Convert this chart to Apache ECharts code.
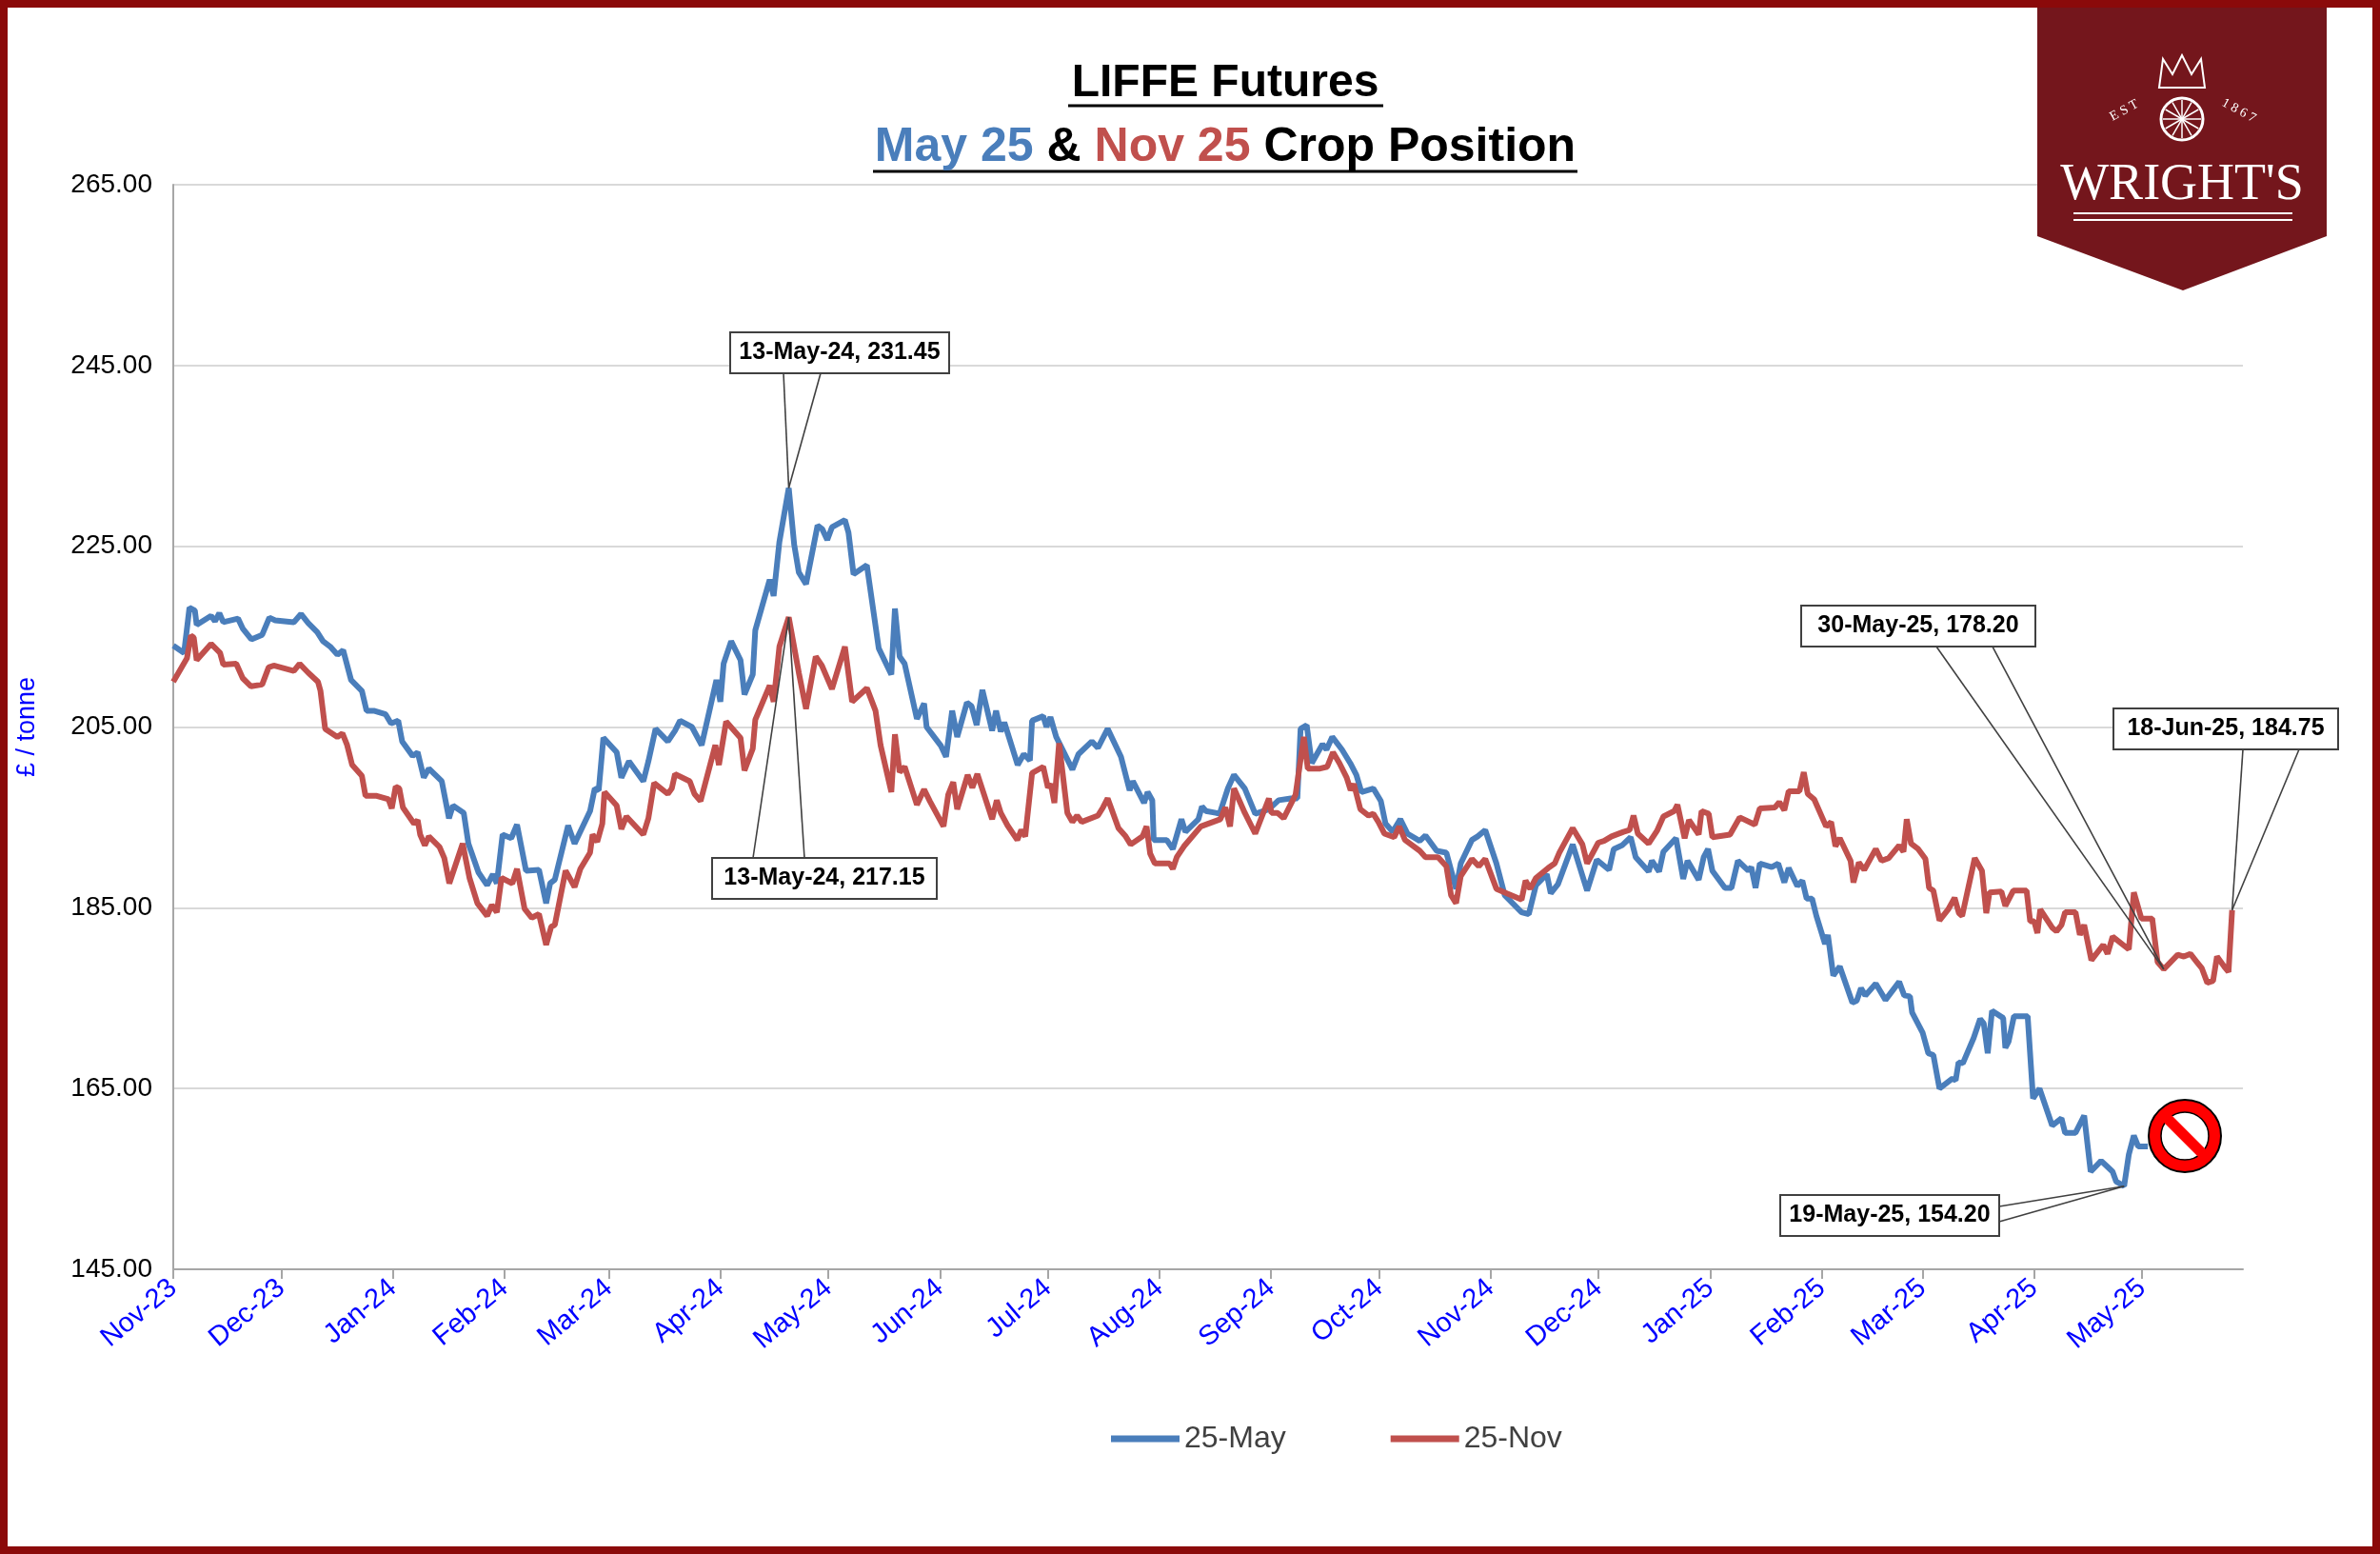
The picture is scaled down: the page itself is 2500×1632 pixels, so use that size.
<!DOCTYPE html>
<html><head><meta charset="utf-8">
<script src="https://cdn.jsdelivr.net/npm/echarts@6/dist/echarts.min.js"></script>
<style>html,body{margin:0;padding:0;background:#fff}#c{width:2500px;height:1632px}</style>
</head><body><div id="c"></div>
<script>
// Day offsets from 24-Nov-2023 and prices (£/tonne)
const startDate = '2023-11-24';
const mayDays = [0,3,4.5,6,6.5,10.5,11.6,12.8,13.9,18,19.3,21.7,24.7,26.7,28.3,33.5,35.5,37.5,40,41.6,43.6,45.6,47.2,49.4,52.4,53.7,55.7,59,60.5,62.5,63.6,66.5,67.9,69.6,71,74.6,76.6,77.7,80.7,82,84.8,87.2,88.8,89.9,91.5,93.9,95.5,98,101.6,103.6,104.7,106,109.7,111.5,115.8,117.1,118.2,119.5,123.2,124.5,126.6,130.6,132,134,137.4,139.4,140.8,144.1,146.8,150.9,152,152.9,155,157.6,158.7,161,161.7,165.7,166.8,168.4,171,172.5,173.8,175.8,179,180.3,181.7,183,186.6,187.6,189,192.7,196,199.5,200.5,201.8,203.2,206.6,208.6,209.3,213.3,214.7,216.4,217.8,220.5,221.8,223.2,224.8,227.5,228.6,229.9,230.9,234.6,236.3,238,238.6,241.7,242.6,243.7,245.3,249.8,251.5,255.2,256.9,259.6,263.3,265.7,266.6,269.7,270.7,272,272.4,276,277.7,280.1,281.2,284.8,285.8,286.9,289.6,290.7,293,294.7,297.7,300.6,304.4,307.1,310.5,312.3,313.2,314.9,316.3,319.3,320.4,322,324.7,327,328.7,330.1,333.4,335.5,336.8,338.8,340.9,342.9,346.3,347.9,351,353.7,356.4,357.7,360.8,362.4,364.5,367.6,369.9,374.6,376.6,378.6,381.6,382.7,384.7,388.8,392.8,395.5,398.9,400.2,402.5,404.9,406.3,409.9,410.8,412.8,414,417.5,419.5,420.7,423.8,425.2,426.4,427.6,431.1,432.9,434.7,437.6,438.4,439.6,440.8,444.1,445.9,447.6,448.8,451.2,452.6,453.8,455.3,456.5,458.9,459.7,461.2,463,466.5,467.7,468.9,470.1,473,475.7,479.5,480.9,482.5,483.1,486,487.6,489,490.7,494.3,495.2,496,497.2,500.2,502,503,504.1,505.3,508.4,509,509.9,511.4,515.2,516.7,518.5,522,524.6,525.6,528.5,530.9,532.7,535.6,537.2,538.8,539.8,542,543.3,544.7,545.9,548.6];
const mayVals = [214.0,213.2,218.2,217.9,216.3,217.3,216.7,217.6,216.6,217.0,215.9,214.7,215.2,217.1,216.8,216.6,217.5,216.5,215.5,214.5,213.9,213.0,213.5,210.2,209.0,206.8,206.8,206.4,205.4,205.7,203.4,201.8,202.2,199.4,200.4,199.0,194.9,196.3,195.5,192.1,188.9,187.5,188.7,187.7,193.1,192.7,194.2,189.1,189.2,185.5,187.7,188.1,194.1,192.1,195.7,198.2,198.0,203.8,202.2,199.4,201.2,199.0,201.2,204.8,203.4,204.6,205.7,205.0,203.0,210.2,207.8,212.0,214.5,212.4,208.6,210.8,215.7,221.3,219.5,225.5,231.45,225.2,222.1,220.8,227.3,226.9,225.7,227.1,227.9,226.5,221.9,222.9,213.7,210.8,218.1,212.8,212.0,205.9,207.6,205.0,202.9,201.7,206.8,203.9,207.7,207.3,205.2,209.1,204.6,206.8,204.5,205.5,200.8,202.0,201.3,205.7,206.2,205.0,206.1,203.9,200.3,202.0,203.4,202.7,204.8,201.7,198.0,199.0,196.6,197.8,196.9,192.5,192.5,191.5,194.8,193.4,194.8,196.2,195.7,195.5,195.4,198.2,199.7,198.2,195.4,195.9,196.9,197.1,197.1,204.8,205.2,201.0,203.1,202.5,203.9,202.5,201.0,199.7,197.8,198.2,196.8,194.3,193.4,194.8,193.2,192.4,193.0,191.3,191.1,187.1,189.9,192.5,192.9,193.6,189.9,186.4,184.5,184.3,187.5,188.7,186.6,187.6,192.0,186.9,190.3,189.2,191.5,191.9,192.8,190.6,189.0,190.2,189.0,191.2,192.7,188.2,190.2,188.1,190.6,191.5,189.1,187.2,187.2,190.2,189.1,189.5,187.2,189.9,189.5,189.9,187.8,189.4,187.4,188.0,186.0,186.0,184.1,181.0,182.0,177.5,178.5,174.5,174.7,176.1,175.3,176.6,174.8,176.8,175.3,175.2,173.4,171.2,168.9,168.7,165.0,166.1,165.9,167.9,167.8,170.6,172.7,172.2,168.9,173.6,172.8,169.5,170.2,173.0,173.0,163.9,165.0,160.9,161.7,160.1,160.1,162.0,155.8,157.0,156.4,155.8,154.7,154.2,157.7,159.8,158.6,158.6];
const novDays = [0,3.8,4.9,5.7,6.5,10.5,13,13.9,17.5,19.3,21.6,24.7,26.5,27.9,33.5,35.1,37.5,40.2,40.9,42.2,45.6,47,48.3,49.7,52.4,53.4,55,56.3,59.8,60.7,61.8,62.8,63.8,66.9,67.9,68.6,69.9,71,74,75.3,76.7,80.4,82.3,84.5,87.2,88.5,89.9,91.2,94.2,95.5,97.6,99.6,101.6,103.6,105,106,109,111.5,113.1,115.8,116.5,117.8,119.2,119.8,123.2,124.5,125.9,130.6,132,133.6,137.4,138.5,139.4,143.5,144.8,146.5,150.6,151.6,153.6,157.6,158.7,161,161.7,165.7,166.8,168.4,171,173.8,175.8,178.5,180.2,183,186.6,188.6,192.7,195.1,196.5,199.5,200.5,201.8,203.2,206.6,208.6,210.2,214,215.3,216.7,217.8,220.7,222,223.4,227.5,228.8,229.9,231.8,234.5,235.6,236.7,238.6,241.7,243,243.8,244.8,246.1,248.4,249.8,251.1,252.4,256.9,258.3,259.6,262.6,264.6,266,269.3,270.4,271.4,272.7,276.8,277.7,278.8,280.8,285.5,288.2,290.9,292.3,293.6,294.7,297.7,300.6,304.4,305.1,306.8,308.5,311.8,314.1,315.2,318.6,320.6,322.2,324,326,327.1,328,329.8,332.1,333.4,334.8,336.5,339.2,340.6,342.2,346.3,347.9,351.4,353.7,355,356.4,357.7,360.8,362.7,364.5,367.6,370.5,374.6,375.7,377,378.6,382,383.8,385.1,388.8,391.5,392.8,395.9,397.5,399.6,402.9,404.6,405.7,406.9,409.9,412.2,414,417,417.9,419.9,421.1,423.8,424.6,426.6,427.6,432.5,435.2,439.4,440.8,445,446.2,447.6,448.8,451.8,453,454.1,455.9,459.2,460.6,461.8,463,466,466.8,468.3,469.8,473,474.6,476.6,479.5,480.7,481.6,482.8,484.8,486.8,487.8,489,490.7,493.1,494.9,496.1,497,500.5,502.5,503.7,504.6,507.9,509,511.2,514.9,515.9,517,517.9,518.7,522,523.2,524.6,525.6,528.5,529.7,530.9,532.9,536.2,537.4,538.8,543.3,544.7,546.8,549.8,551.3,553,556.9,558.6,560.4,562.2,563.6,565.1,566.7,567.8,569.8,571,572];
const novVals = [210.0,212.6,215.1,214.9,212.4,214.2,213.2,211.9,212.0,210.4,209.5,209.7,211.6,211.8,211.2,212.0,211.0,210.0,209.0,204.8,203.9,204.3,203.0,200.8,199.6,197.4,197.4,197.4,197.0,196.0,198.4,198.2,196.1,194.3,194.7,193.1,191.9,192.9,191.7,190.5,187.7,192.1,188.3,185.5,184.1,185.3,184.5,188.3,187.7,189.3,184.9,183.9,184.3,180.9,182.9,183.1,189.1,187.3,189.3,191.1,193.1,192.3,194.3,197.8,196.3,193.7,195.1,193.1,194.9,198.8,197.6,198.2,199.8,199.0,197.6,196.8,203.0,200.8,205.6,203.8,200.2,202.6,205.8,209.6,207.8,213.9,217.15,211.0,207.0,212.8,211.8,209.2,213.9,207.8,209.3,206.8,203.0,197.8,204.2,200.0,200.6,196.4,198.1,196.8,194.0,197.5,198.9,195.9,199.7,198.3,199.8,194.8,196.9,195.5,194.1,192.5,193.6,192.9,199.9,200.6,198.3,198.7,196.6,203.2,195.5,194.5,195.2,194.5,195.2,196.1,197.1,193.8,192.9,192.0,192.9,194.0,191.0,189.9,189.9,189.3,190.6,191.8,194.0,194.4,194.8,196.1,194.0,198.2,195.5,193.2,197.1,195.5,195.5,194.9,197.5,203.9,200.4,200.4,200.6,202.2,201.0,199.4,198.0,198.7,195.9,195.2,195.4,194.5,193.2,192.8,194.0,192.5,191.3,190.6,190.6,189.6,186.4,185.5,188.5,190.4,189.6,190.4,187.1,186.6,185.9,188.0,187.1,188.3,189.4,189.9,191.1,193.8,192.0,189.9,192.2,192.4,192.9,193.4,193.6,195.2,193.2,192.1,193.5,195.1,195.7,196.4,192.7,194.7,193.1,195.7,195.4,192.8,193.1,195.0,194.2,196.0,196.1,196.7,195.8,197.9,197.9,200.0,197.6,197.0,194.0,194.5,191.8,192.7,190.2,187.8,190.0,189.2,191.5,190.2,190.5,191.9,191.2,194.8,192.1,191.5,190.4,187.2,186.9,183.6,184.8,186.1,184.4,184.1,190.5,189.1,184.4,186.7,186.8,185.2,186.9,186.9,183.5,183.5,182.2,184.8,182.8,182.4,183.1,184.5,184.5,182.0,183.1,179.2,180.9,179.9,181.8,180.4,186.7,183.8,183.8,179.0,178.2,179.8,179.6,179.9,179.0,178.3,176.7,176.9,179.6,178.5,177.9,184.75];
const monthTicks = ['2023-11-24','2023-12-24','2024-01-24','2024-02-24','2024-03-24','2024-04-24','2024-05-24','2024-06-24','2024-07-24','2024-08-24','2024-09-24','2024-10-24','2024-11-24','2024-12-24','2025-01-24','2025-02-24','2025-03-24','2025-04-24','2025-05-24'];
const monthLabels = ['Nov-23','Dec-23','Jan-24','Feb-24','Mar-24','Apr-24','May-24','Jun-24','Jul-24','Aug-24','Sep-24','Oct-24','Nov-24','Dec-24','Jan-25','Feb-25','Mar-25','Apr-25','May-25'];
const callouts = [
  {text:'13-May-24, 231.45', day:171, val:231.45},
  {text:'13-May-24, 217.15', day:171, val:217.15},
  {text:'30-May-25, 178.20', day:553, val:178.20},
  {text:'18-Jun-25, 184.75', day:572, val:184.75},
  {text:'19-May-25, 154.20', day:542, val:154.20}
];

const DAY = 86400000;
const t0 = Date.parse(startDate + 'T00:00:00Z');
const tickDays = monthTicks.map(s => Math.round((Date.parse(s + 'T00:00:00Z') - t0) / DAY));
const labelMap = {}; tickDays.forEach((d, i) => labelMap[d] = monthLabels[i]);
const BLUE = '#4a7ebb', RED = '#c0504d';

const chart = echarts.init(document.getElementById('c'));
chart.setOption({
  animation: false,
  backgroundColor: '#fff',
  grid: {left: 182, right: 144, top: 194, bottom: 299},
  legend: {
    top: 1490, left: 1162, itemGap: 110, itemWidth: 72, itemHeight: 7,
    textStyle: {fontFamily: 'Liberation Sans Narrow, Arial Narrow, sans-serif', fontSize: 32, color: '#404040'},
    data: [{name: '25-May', icon: 'rect'}, {name: '25-Nov', icon: 'rect'}]
  },
  xAxis: {
    type: 'value', min: 0, max: 575,
    axisLine: {lineStyle: {color: '#a6a6a6', width: 2}},
    axisTick: {show: true, customValues: tickDays, length: 10, lineStyle: {color: '#a6a6a6', width: 2}},
    splitLine: {show: false},
    axisLabel: {customValues: tickDays, rotate: 40, color: '#0000ff', fontSize: 29, fontFamily: 'Liberation Sans, Arial, sans-serif', margin: 16,
      formatter: v => labelMap[Math.round(v)] || ''}
  },
  yAxis: {
    type: 'value', min: 145, max: 265, interval: 20,
    name: '£ / tonne', nameLocation: 'middle', nameGap: 140, nameRotate: 90,
    nameTextStyle: {color: '#0000ff', fontSize: 27, fontFamily: 'Liberation Sans, Arial, sans-serif'},
    axisLine: {show: true, lineStyle: {color: '#a6a6a6', width: 2}},
    axisTick: {show: false},
    splitLine: {lineStyle: {color: '#d9d9d9', width: 2}},
    axisLabel: {formatter: v => v.toFixed(2), color: '#000', fontSize: 28, fontFamily: 'Liberation Sans Narrow, Arial Narrow, sans-serif', margin: 22}
  },
  series: [
    {name: '25-May', type: 'line', showSymbol: false, symbol: 'none', color: BLUE, lineStyle: {width: 6, color: BLUE},
     data: mayDays.map((d, i) => [d, mayVals[i]])},
    {name: '25-Nov', type: 'line', showSymbol: false, symbol: 'none', color: RED, lineStyle: {width: 6, color: RED},
     data: novDays.map((d, i) => [d, novVals[i]])}
  ]
});

const boxLayout = [
  {x: 767, y: 349, w: 230, h: 43, a: [[823, 392], [862, 392]]},
  {x: 748, y: 901, w: 236, h: 43, a: [[791, 901], [845, 901]]},
  {x: 1892, y: 636, w: 246, h: 43, a: [[2034, 679], [2093, 679]]},
  {x: 2220, y: 744, w: 236, h: 43, a: [[2356, 787], [2415, 787]]},
  {x: 1870, y: 1255, w: 230, h: 43, a: [[2100, 1267], [2100, 1283]]}
];
const F = 'Liberation Sans Narrow, Arial Narrow, sans-serif';
const g = [];
callouts.forEach((c, i) => {
  const p = chart.convertToPixel({xAxisIndex: 0, yAxisIndex: 0}, [c.day, c.val]);
  const b = boxLayout[i];
  b.a.forEach(a => g.push({type: 'line', shape: {x1: a[0], y1: a[1], x2: p[0], y2: p[1]}, style: {stroke: '#404040', lineWidth: 1.6}, z: 100}));
  g.push({type: 'rect', shape: {x: b.x, y: b.y, width: b.w, height: b.h}, style: {fill: '#fff', stroke: '#404040', lineWidth: 2}, z: 101});
  g.push({type: 'text', x: b.x + b.w / 2, y: b.y + b.h / 2, style: {text: c.text, fill: '#000', font: 'bold 25px ' + F, align: 'center', verticalAlign: 'middle'}, z: 102});
});
const TF = F;
g.push({type: 'text', x: 1287, y: 88, style: {text: 'LIFFE Futures', font: 'bold 48px ' + TF, fill: '#000', align: 'center', verticalAlign: 'middle'}, z: 50});
g.push({type: 'line', shape: {x1: 1122, y1: 111, x2: 1453, y2: 111}, style: {stroke: '#000', lineWidth: 3}});
const parts = [['May 25', BLUE], [' & ', '#000'], ['Nov 25', RED], [' Crop Position', '#000']];
g.push({type: 'text', x: 1287, y: 155, style: {text: parts.map((p, i) => '{s' + i + '|' + p[0] + '}').join(''),
  rich: Object.fromEntries(parts.map((p, i) => ['s' + i, {fill: p[1], font: 'bold 50px ' + TF}])), align: 'center', verticalAlign: 'middle'}, z: 50});
g.push({type: 'line', shape: {x1: 917, y1: 180, x2: 1657, y2: 180}, style: {stroke: '#000', lineWidth: 3}});
g.push({type: 'polygon', shape: {points: [[2140, 8], [2444, 8], [2444, 248], [2293, 305], [2140, 248]]}, style: {fill: '#74161c'}, z: 60});
g.push({type: 'circle', shape: {cx: 2292, cy: 125, r: 22}, style: {fill: 'none', stroke: '#fff', lineWidth: 3}, z: 61});
for (let k = 0; k < 12; k++) { const a = k * Math.PI / 6; g.push({type: 'line', shape: {x1: 2292, y1: 125, x2: 2292 + 20 * Math.cos(a), y2: 125 + 20 * Math.sin(a)}, style: {stroke: '#fff', lineWidth: 1.5}, z: 61}); }
g.push({type: 'polygon', shape: {points: [[2268, 92], [2272, 62], [2282, 78], [2292, 58], [2302, 78], [2312, 62], [2316, 92]]}, style: {fill: 'none', stroke: '#fff', lineWidth: 2}, z: 61});
g.push({type: 'text', x: 2228, y: 110, rotation: 0.5, style: {text: 'E S T', font: '14px serif', fill: '#fff', align: 'center'}, z: 61});
g.push({type: 'text', x: 2355, y: 110, rotation: -0.5, style: {text: '1 8 6 7', font: '14px serif', fill: '#fff', align: 'center'}, z: 61});
g.push({type: 'text', x: 2292, y: 195, style: {text: "WRIGHT'S", font: '54px "Liberation Serif", serif', fill: '#fff', align: 'center', verticalAlign: 'middle'}, z: 61});
g.push({type: 'line', shape: {x1: 2178, y1: 224, x2: 2408, y2: 224}, style: {stroke: '#fff', lineWidth: 2}, z: 61});
g.push({type: 'line', shape: {x1: 2178, y1: 231, x2: 2408, y2: 231}, style: {stroke: '#fff', lineWidth: 2}, z: 61});
g.push({type: 'circle', shape: {cx: 2295, cy: 1193, r: 38}, style: {fill: '#ff0000', stroke: '#000', lineWidth: 2}, z: 70});
g.push({type: 'circle', shape: {cx: 2295, cy: 1193, r: 25}, style: {fill: '#fff', stroke: '#000', lineWidth: 1.5}, z: 71});
g.push({type: 'line', shape: {x1: 2276, y1: 1174, x2: 2314, y2: 1212}, style: {stroke: '#ff0000', lineWidth: 11}, z: 72});
g.push({type: 'rect', shape: {x: 4, y: 4, width: 2492, height: 1624}, style: {fill: 'none', stroke: '#8b0a0a', lineWidth: 8}, z: 200});
chart.setOption({graphic: g});
</script></body></html>
